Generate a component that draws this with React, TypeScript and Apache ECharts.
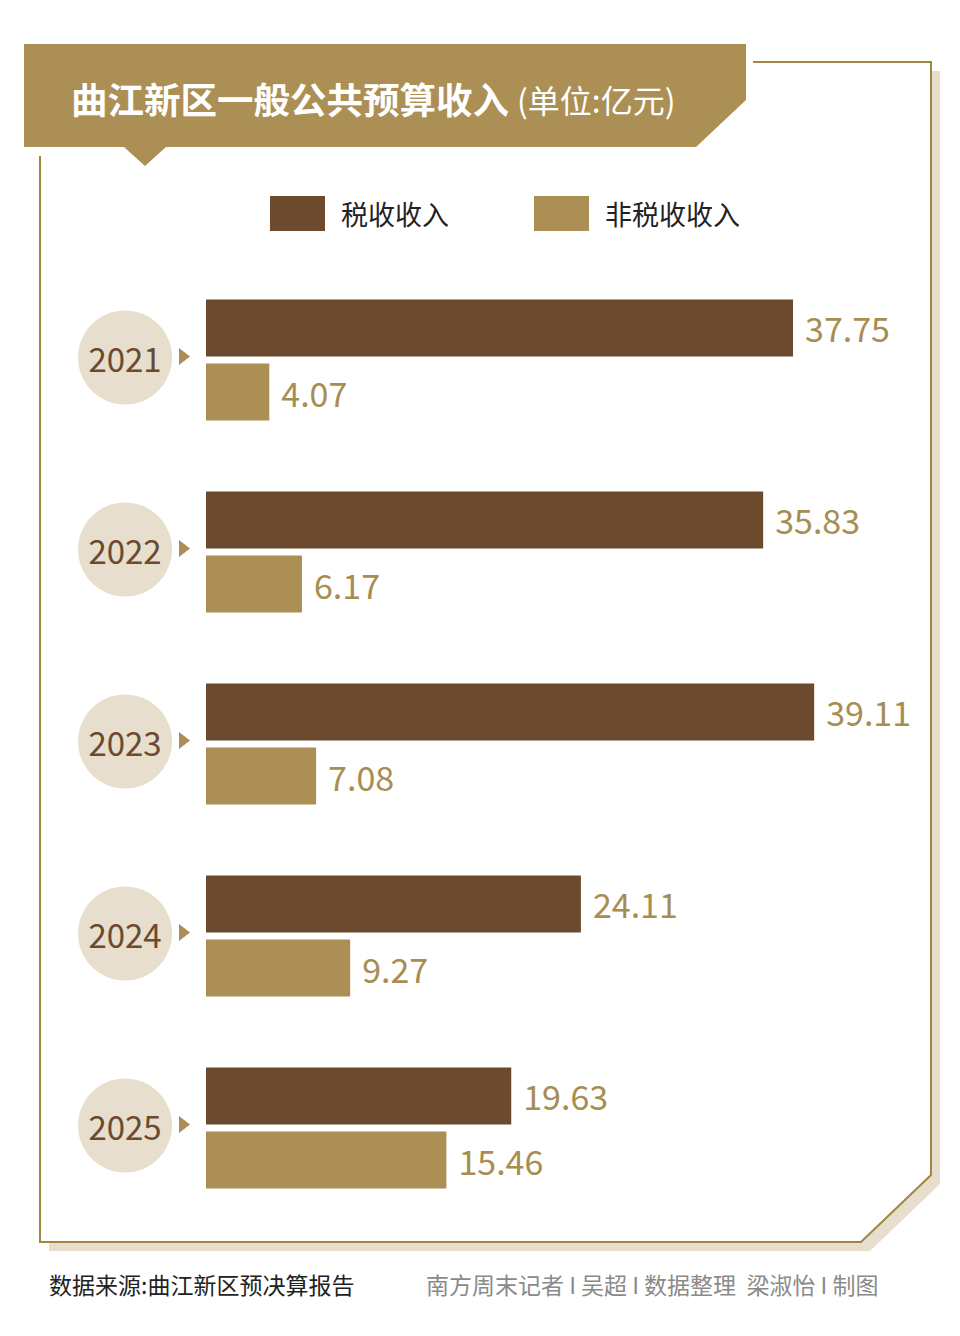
import { useEffect, useRef } from "react";
import * as echarts from "echarts";

// Revenue figures, 100 million yuan
const years = ["2021", "2022", "2023", "2024", "2025"];
const taxRevenue = [37.75, 35.83, 39.11, 24.11, 19.63];
const nonTaxRevenue = [4.07, 6.17, 7.08, 9.27, 15.46];
const seriesNames = ["税收收入", "非税收收入"];

const titleText = "曲江新区一般公共预算收入";
const unitText = "(单位:亿元)";
const sourceText = "数据来源:曲江新区预决算报告";
const creditText = "南方周末记者 I 吴超 I 数据整理  梁淑怡 I 制图";

const DARK = "#6b4a2e";
const GOLD = "#ac8f55";
const LABEL_GOLD = "#a88d52";
const BEIGE = "#e7dece";
const LINE = "#a3853f";
const CJK = '"Noto Sans CJK SC", "Noto Sans", sans-serif';

export default function App() {
  const ref = useRef<HTMLDivElement>(null);

  useEffect(() => {
    document.body.style.margin = "0";
    const chart = echarts.init(ref.current!, null, { renderer: "svg" });

    const valueLabel = {
      show: true,
      position: "right" as const,
      distance: 12,
      color: LABEL_GOLD,
      fontSize: 34,
      fontFamily: CJK,
      formatter: (p: any) => Number(p.value).toFixed(2),
    };

    chart.setOption({
      animation: false,
      backgroundColor: "#ffffff",
      legend: {
        left: 270,
        top: 196,
        padding: 0,
        itemWidth: 55,
        itemHeight: 35,
        itemGap: 85,
        icon: "rect",
        selectedMode: false,
        textStyle: {
          fontSize: 27,
          color: "#222222",
          fontFamily: CJK,
          padding: [0, 0, 3, 11],
        },
        data: seriesNames,
      },
      grid: { left: 206, top: 264, width: 622, height: 960, containLabel: false },
      xAxis: {
        type: "value",
        min: 0,
        max: 40,
        show: false,
      },
      yAxis: {
        type: "category",
        inverse: true,
        data: years,
        axisLine: { show: false },
        axisTick: { show: false },
        splitLine: { show: false },
        axisLabel: {
          margin: 34,
          padding: [0, 0, 5, 0],
          formatter: (v: string) => `{c|${v}}`,
          rich: {
            c: {
              width: 94,
              height: 94,
              lineHeight: 94,
              borderRadius: 47,
              backgroundColor: BEIGE,
              align: "center",
              verticalAlign: "middle",
              fontSize: 33,
              color: DARK,
              fontFamily: CJK,
            },
          },
        },
      },
      series: [
        {
          name: seriesNames[0],
          type: "bar",
          data: taxRevenue,
          barWidth: 57,
          barGap: "12.3%",
          itemStyle: { color: DARK },
          label: valueLabel,
        },
        {
          name: seriesNames[1],
          type: "bar",
          data: nonTaxRevenue,
          barWidth: 57,
          barGap: "12.3%",
          itemStyle: { color: GOLD },
          label: valueLabel,
        },
      ],
    });

    // Small pointers between each year badge and its bars
    const pointers = years.map((y) => {
      const py = chart.convertToPixel({ yAxisIndex: 0 }, y) as number;
      return {
        type: "polygon",
        shape: { points: [[179, py - 12], [190, py - 3.5], [179, py + 5]] },
        style: { fill: GOLD },
      };
    });

    chart.setOption({
      graphic: [
        // frame shadow
        {
          type: "polygon",
          shape: { points: [[49, 71], [940, 71], [940, 1184], [870, 1251], [49, 1251]] },
          style: { fill: BEIGE },
        },
        // frame body
        {
          type: "polygon",
          shape: { points: [[40, 62], [931, 62], [931, 1175], [861, 1242], [40, 1242]] },
          style: { fill: "#ffffff" },
        },
        {
          type: "polyline",
          shape: { points: [[753, 62], [931, 62], [931, 1175], [861, 1242], [40, 1242], [40, 156]] },
          style: { stroke: LINE, lineWidth: 2, fill: null },
        },
        // title banner
        {
          type: "polygon",
          shape: {
            points: [
              [24, 44], [746, 44], [746, 100], [696, 147], [166, 147],
              [145, 166], [124, 147], [24, 147],
            ],
          },
          style: { fill: GOLD },
        },
        {
          type: "text",
          x: 71,
          y: 98,
          style: {
            text: titleText,
            fill: "#ffffff",
            fontSize: 36.5,
            fontWeight: "bold",
            fontFamily: CJK,
            verticalAlign: "middle",
          },
        },
        {
          type: "text",
          x: 517,
          y: 99,
          style: {
            text: unitText,
            fill: "#ffffff",
            fontSize: 32,
            fontFamily: CJK,
            verticalAlign: "middle",
          },
        },
        ...pointers,
        // footer
        {
          type: "text",
          x: 49,
          y: 1284,
          style: {
            text: sourceText,
            fill: "#222222",
            fontSize: 23,
            fontFamily: CJK,
            verticalAlign: "middle",
          },
        },
        {
          type: "text",
          x: 426,
          y: 1284,
          style: {
            text: creditText,
            fill: "#8a8a8a",
            fontSize: 23,
            fontFamily: CJK,
            verticalAlign: "middle",
          },
        },
      ],
    });

    return () => chart.dispose();
  }, []);

  return <div ref={ref} style={{ width: 960, height: 1336 }} />;
}
